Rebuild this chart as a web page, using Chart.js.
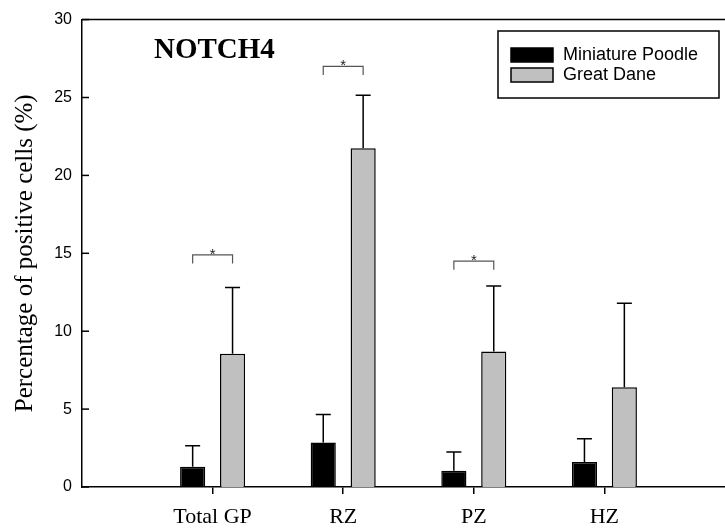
<!DOCTYPE html>
<html>
<head>
<meta charset="utf-8">
<script src="https://cdn.jsdelivr.net/npm/chart.js@4"></script>
<style>
    html, body { margin: 0; padding: 0; background: #fff; overflow: hidden; }
    #wrap { width: 745px; height: 529px; }
</style>
</head>
<body>
<div id="wrap"><canvas id="chart"></canvas></div>
<script>
/* values */
var categories = ['Total GP', 'RZ', 'PZ', 'HZ'];
var poodleMeans = [1.3, 2.85, 1.05, 1.6];
var poodleSD = [1.35, 1.8, 1.2, 1.5];
var daneMeans = [8.55, 21.75, 8.7, 6.4];
var daneSD = [4.25, 3.4, 4.2, 5.4];
var yTicks = [0, 5, 10, 15, 20, 25, 30];

/* significance brackets: category index and height (%) */
var sigIndex = [0, 1, 2];
var sigLevel = [14.9, 27.0, 14.5];

var chartTitle = 'NOTCH4';
var yTitle = 'Percentage of positive cells (%)';

/* empty slot on each side so the groups sit like the original */
var labels = [''].concat(categories, ['']);
function pad(arr) { return [null].concat(arr, [null]); }

var serif = "'Liberation Serif', 'Times New Roman', serif";
var sans = "'Liberation Sans', Arial, sans-serif";

var extras = {
    id: 'extras',
    afterDatasetsDraw: function (chart) {
        var ctx = chart.ctx;
        var area = chart.chartArea;
        var y = chart.scales.y;
        ctx.save();

        /* top frame line */
        ctx.strokeStyle = '#000';
        ctx.lineWidth = 1.5;
        ctx.beginPath();
        ctx.moveTo(area.left, area.top);
        ctx.lineTo(area.right, area.top);
        ctx.stroke();

        /* inward y ticks */
        yTicks.forEach(function (v) {
            var py = y.getPixelForValue(v);
            ctx.beginPath();
            ctx.moveTo(area.left, py);
            ctx.lineTo(area.left + 7, py);
            ctx.stroke();
        });

        /* upper error bars */
        [poodleSD, daneSD].forEach(function (sd, di) {
            var meta = chart.getDatasetMeta(di);
            var means = chart.data.datasets[di].data;
            meta.data.forEach(function (bar, i) {
                if (means[i] == null) return;
                var top = y.getPixelForValue(means[i]);
                var end = y.getPixelForValue(means[i] + sd[i - 1]);
                ctx.beginPath();
                ctx.moveTo(bar.x, top);
                ctx.lineTo(bar.x, end);
                ctx.moveTo(bar.x - 7.5, end);
                ctx.lineTo(bar.x + 7.5, end);
                ctx.stroke();
            });
        });

        /* significance brackets */
        var m0 = chart.getDatasetMeta(0), m1 = chart.getDatasetMeta(1);
        ctx.strokeStyle = '#555';
        ctx.lineWidth = 1.2;
        ctx.fillStyle = '#222';
        ctx.font = '15px ' + sans;
        ctx.textAlign = 'center';
        ctx.textBaseline = 'alphabetic';
        sigIndex.forEach(function (ci, k) {
            var x1 = m0.data[ci + 1].x, x2 = m1.data[ci + 1].x;
            var top = y.getPixelForValue(sigLevel[k]);
            var leg = y.getPixelForValue(sigLevel[k] - 0.55);
            ctx.beginPath();
            ctx.moveTo(x1, leg);
            ctx.lineTo(x1, top);
            ctx.lineTo(x2, top);
            ctx.lineTo(x2, leg);
            ctx.stroke();
            ctx.fillText('*', (x1 + x2) / 2, top + 4);
        });

        /* panel title */
        ctx.fillStyle = '#000';
        ctx.font = 'bold 29px ' + serif;
        ctx.textAlign = 'left';
        ctx.textBaseline = 'middle';
        ctx.fillText(chartTitle, 154, 51);

        /* legend box */
        ctx.strokeStyle = '#000';
        ctx.lineWidth = 1.5;
        ctx.strokeRect(498, 31, 221, 67);
        ctx.font = '18px ' + sans;
        chart.data.datasets.forEach(function (ds, i) {
            var cy = 55 + i * 20;
            ctx.fillStyle = ds.backgroundColor;
            ctx.fillRect(511, cy - 7, 42, 14);
            ctx.strokeRect(511, cy - 7, 42, 14);
            ctx.fillStyle = '#000';
            ctx.fillText(ds.label, 563, cy);
        });
        ctx.restore();
    }
};

new Chart(document.getElementById('chart'), {
    type: 'bar',
    data: {
        labels: labels,
        datasets: [
            {
                label: 'Miniature Poodle',
                data: pad(poodleMeans),
                backgroundColor: '#000000',
                borderColor: '#000000',
                borderWidth: 1.5
            },
            {
                label: 'Great Dane',
                data: pad(daneMeans),
                backgroundColor: '#c0c0c0',
                borderColor: '#000000',
                borderWidth: 1.5
            }
        ]
    },
    options: {
        responsive: true,
        maintainAspectRatio: false,
        animation: false,
        categoryPercentage: 0.611,
        barPercentage: 0.63,
        layout: { padding: { top: 18, right: 8, left: 0, bottom: 0 } },
        plugins: { legend: { display: false }, tooltip: { enabled: false } },
        scales: {
            x: {
                offset: false,
                grid: {
                    display: true,
                    offset: false,
                    drawOnChartArea: false,
                    drawTicks: true,
                    tickLength: 7,
                    lineWidth: 1.5,
                    color: function (c) { return labels[c.index] ? '#000' : 'rgba(0,0,0,0)'; }
                },
                border: { display: true, color: '#000', width: 1.5 },
                ticks: {
                    autoSkip: false,
                    maxRotation: 0,
                    padding: 10,
                    color: '#000',
                    font: { family: serif, size: 22 }
                },
                afterFit: function (s) { s.height = 42; }
            },
            y: {
                min: 0,
                max: 30,
                grid: { display: false, drawTicks: false },
                border: { display: true, color: '#000', width: 1.5 },
                ticks: {
                    stepSize: 5,
                    padding: 10,
                    color: '#000',
                    font: { family: sans, size: 16 }
                },
                title: {
                    display: true,
                    text: yTitle,
                    color: '#000',
                    padding: { top: 10, bottom: 0 },
                    font: { family: serif, size: 25, weight: 'normal' }
                },
                afterFit: function (s) { s.width = 82; }
            }
        }
    },
    plugins: [extras]
});
</script>
</body>
</html>
